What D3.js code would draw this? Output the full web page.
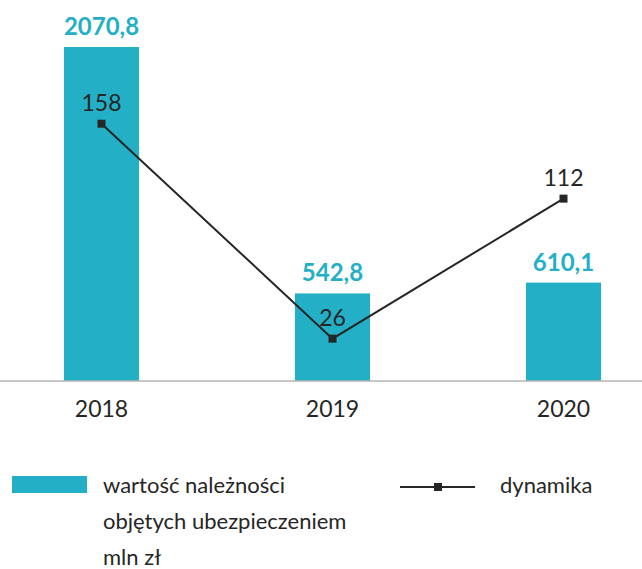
<!DOCTYPE html>
<html>
<head>
<meta charset="utf-8">
<script src="https://cdn.jsdelivr.net/npm/d3@7"></script>
<style>
  body { margin: 0; background: #fff; }
  svg text { font-family: Lato, "Open Sans", sans-serif; }
</style>
</head>
<body>
<div id="chart"></div>
<script>
// Data.
let years = ["2018", "2019", "2020"];
let values = [2070.8, 542.8, 610.1];       // wartość należności, mln zł
let dynamics = [158, 26, 112];             // dynamika
let valueLabels = ["2070,8", "542,8", "610,1"];

let teal = "#23afc6",
    ink = "#262626";

let width = 642, height = 569;
let baseY = 381;

let svg = d3.select("#chart")
            .append("svg")
            .attr("width", width)
            .attr("height", height);

// Scales: bars and line share the baseline but have their own ranges.
let x = d3.scaleBand()
          .domain(years)
          .range([-14, 679])
          .paddingInner(0.675)
          .paddingOuter(0.3375);

let yBar = d3.scaleLinear()
             .domain([0, 2100])
             .range([baseY, baseY - 338.7]);

let yLine = d3.scaleLinear()
              .domain([0, 208])
              .range([baseY, baseY - 338.7]);

// Bars.
svg.append("g")
   .selectAll("rect")
   .data(values)
   .enter()
   .append("rect")
   .attr("x", (d, i) => x(years[i]))
   .attr("y", d => yBar(d))
   .attr("width", x.bandwidth())
   .attr("height", d => baseY - yBar(d))
   .attr("fill", teal);

// Bar value labels.
svg.append("g")
   .selectAll("text")
   .data(values)
   .enter()
   .append("text")
   .attr("x", (d, i) => x(years[i]) + x.bandwidth() / 2)
   .attr("y", d => yBar(d) - 12)
   .attr("text-anchor", "middle")
   .attr("fill", teal)
   .style("font-size", "24px")
   .style("font-weight", "bold")
   .text((d, i) => valueLabels[i]);

// Baseline / x axis.
let xAxis = svg.append("g")
   .attr("transform", "translate(0," + baseY + ")")
   .call(d3.axisBottom(x).tickSize(0).tickPadding(20));
xAxis.select(".domain").remove();
xAxis.append("line")
     .attr("x1", 0).attr("x2", width)
     .attr("stroke", "#b5b5b5").attr("stroke-width", 1.5);
xAxis.selectAll(".tick text")
     .attr("fill", ink)
     .style("font-size", "23px")
     .style("font-family", "Lato, sans-serif");

// Dynamics line.
let cx = (d, i) => x(years[i]) + x.bandwidth() / 2;
svg.append("path")
   .datum(dynamics)
   .attr("fill", "none")
   .attr("stroke", ink)
   .attr("stroke-width", 2)
   .attr("d", d3.line().x(cx).y(d => yLine(d)));

svg.append("g")
   .selectAll("rect")
   .data(dynamics)
   .enter()
   .append("rect")
   .attr("x", (d, i) => cx(d, i) - 4)
   .attr("y", d => yLine(d) - 4)
   .attr("width", 8)
   .attr("height", 8)
   .attr("fill", ink);

svg.append("g")
   .selectAll("text")
   .data(dynamics)
   .enter()
   .append("text")
   .attr("x", cx)
   .attr("y", d => yLine(d) - 13)
   .attr("text-anchor", "middle")
   .attr("fill", ink)
   .style("font-size", "23px")
   .text(d => d);

// Legend.
let legend = svg.append("g");
legend.append("rect")
      .attr("x", 12).attr("y", 476)
      .attr("width", 75).attr("height", 17)
      .attr("fill", teal);
legend.append("text")
      .attr("x", 103).attr("y", 493)
      .attr("fill", ink)
      .style("font-size", "22px")
      .selectAll("tspan")
      .data(["wartość należności", "objętych ubezpieczeniem", "mln zł"])
      .enter()
      .append("tspan")
      .attr("x", 103)
      .attr("dy", (d, i) => i ? 36 : 0)
      .text(d => d);

legend.append("line")
      .attr("x1", 400).attr("x2", 475)
      .attr("y1", 487).attr("y2", 487)
      .attr("stroke", ink).attr("stroke-width", 2);
legend.append("rect")
      .attr("x", 434).attr("y", 483)
      .attr("width", 8).attr("height", 8)
      .attr("fill", ink);
legend.append("text")
      .attr("x", 500).attr("y", 493)
      .attr("fill", ink)
      .style("font-size", "22px")
      .text("dynamika");
</script>
</body>
</html>
